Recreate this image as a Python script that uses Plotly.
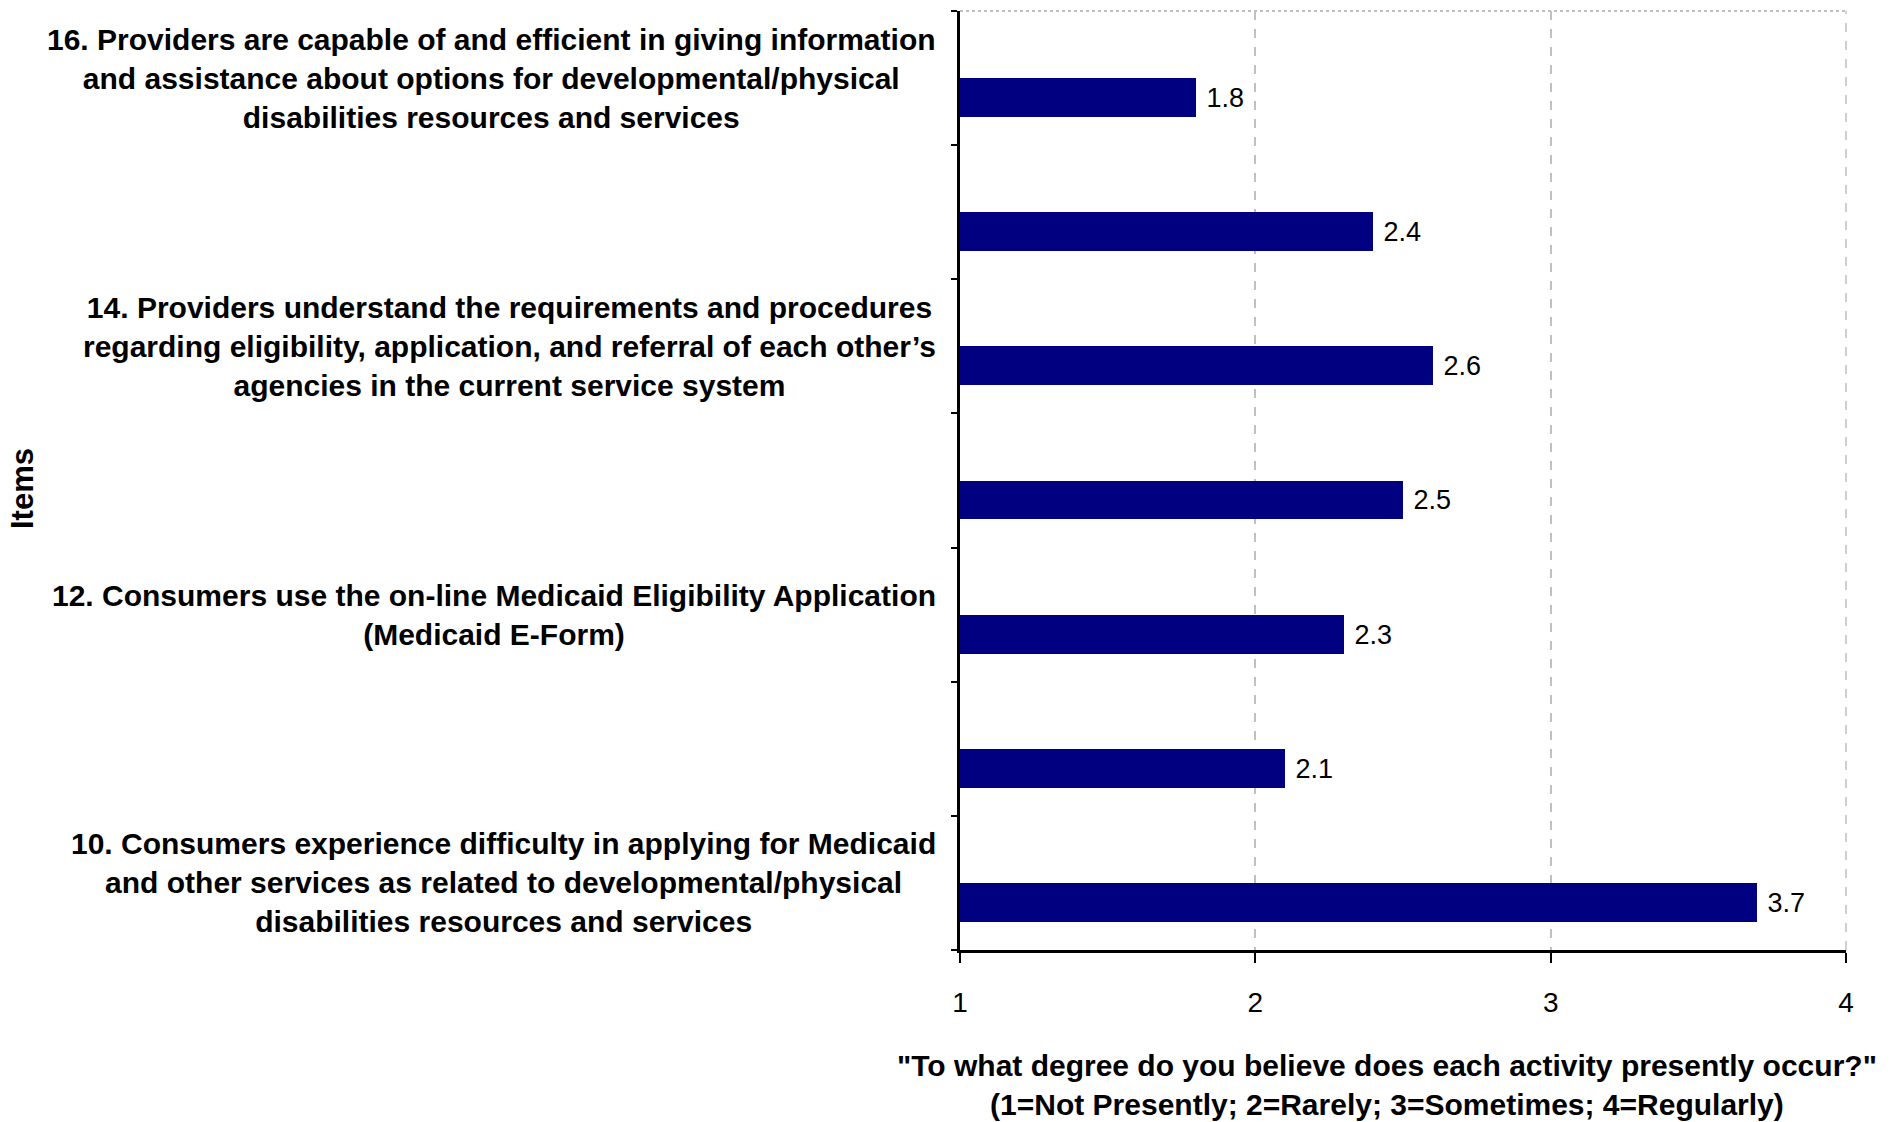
import plotly.graph_objects as go

# ---- data ----
items = ["10", "11", "12", "13", "14", "15", "16"]
values = [3.7, 2.1, 2.3, 2.5, 2.6, 2.4, 1.8]
item_labels = [
    "10. Consumers experience difficulty in applying for Medicaid<br>and other services as related to developmental/physical<br>disabilities resources and services",
    "",
    "12. Consumers use the on-line Medicaid Eligibility Application<br>(Medicaid E-Form)",
    "",
    "14. Providers understand the requirements and procedures<br>regarding eligibility, application, and referral of each other\u2019s<br>agencies in the current service system",
    "",
    "16. Providers are capable of and efficient in giving information<br>and assistance about options for developmental/physical<br>disabilities resources and services",
]
x_ticks = [1, 2, 3, 4]
x_title = "\"To what degree do you believe does each activity presently occur?\"<br>(1=Not Presently; 2=Rarely; 3=Sometimes; 4=Regularly)"
y_title = "Items"

FONT = "Liberation Sans, Arial, sans-serif"

fig = go.Figure()
fig.add_trace(go.Bar(
    y=items, x=values, orientation="h",
    marker=dict(color="#000080", line=dict(width=0)),
    offset=-0.29, width=0.29,
    text=[f"\u00a0{v:.1f}" for v in values], textposition="outside",
    constraintext="none",
    textfont=dict(family=FONT, size=27, color="black"),
    cliponaxis=False,
    showlegend=False,
))

annotations = []
for idx, lab in enumerate(item_labels):
    if lab:
        annotations.append(dict(
            x=0, xref="paper", y=idx, yref="y", text=lab,
            xanchor="right", yanchor="middle", xshift=-22, align="center",
            showarrow=False, font=dict(family=FONT, size=30, color="black", weight="bold"),
        ))
annotations.append(dict(
    x=0.482, xref="paper", y=-0.1438, yref="paper", text="<b>" + x_title + "</b>",
    xanchor="center", yanchor="middle", align="center", showarrow=False,
    font=dict(family=FONT, size=30, color="black"),
))
annotations.append(dict(
    x=-1.0587, xref="paper", y=0.492, yref="paper", text="<b>" + y_title + "</b>",
    xanchor="center", yanchor="middle", textangle=-90, showarrow=False,
    font=dict(family=FONT, size=31, color="black"),
))

fig.update_layout(
    width=1891, height=1122,
    margin=dict(l=960, r=45, t=11, b=172),
    paper_bgcolor="white", plot_bgcolor="white",
    annotations=annotations,
    shapes=[
        dict(type="line", xref="paper", yref="paper", x0=0, x1=1, y0=1, y1=1,
             line=dict(color="#c0c0c0", width=2, dash="dot")),
        dict(type="line", xref="paper", yref="paper", x0=1, x1=1, y0=0, y1=1,
             line=dict(color="#c0c0c0", width=1.5, dash="dash")),
    ],
    bargap=0,
)
fig.update_xaxes(
    range=[1, 4], tickvals=x_ticks, ticktext=[str(t) for t in x_ticks],
    showline=True, linecolor="black", linewidth=2.5,
    ticks="outside", ticklen=10, tickwidth=2, tickcolor="black",
    ticklabelstandoff=16,
    tickfont=dict(family=FONT, size=28, color="black"),
    showgrid=True, gridcolor="#c0c0c0", gridwidth=1.5, griddash="dash",
    zeroline=False,
)
fig.update_yaxes(
    type="category", categoryorder="array", categoryarray=items,
    range=[-0.5, len(items) - 0.5],
    showticklabels=False, showline=True, linecolor="black", linewidth=2.5,
    ticks="outside", tickson="boundaries", ticklen=6, tickwidth=2, tickcolor="black",
    showgrid=False, zeroline=False,
)
fig.write_html("out.html")
